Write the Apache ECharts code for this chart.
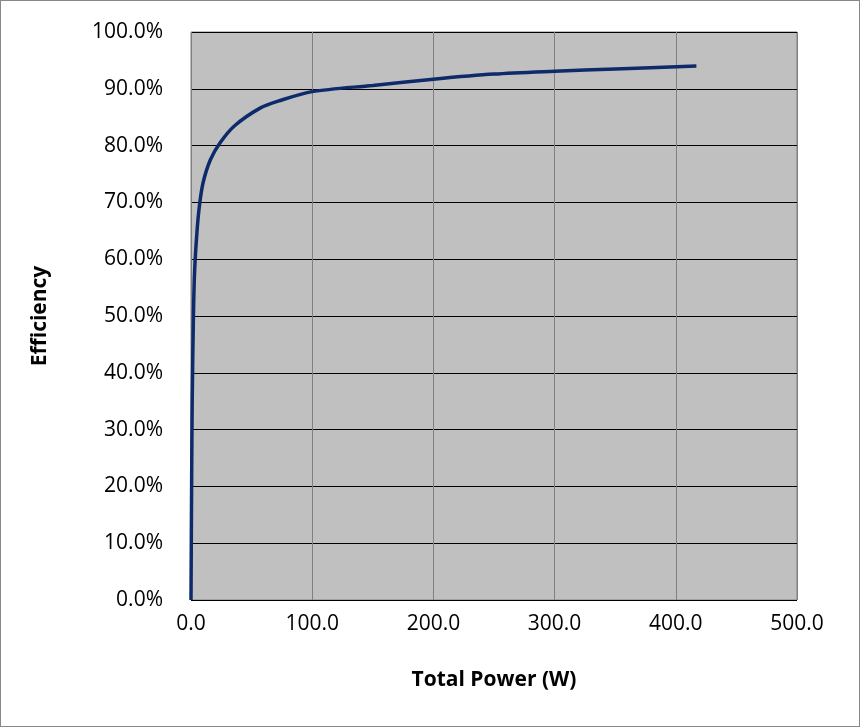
<!DOCTYPE html>
<html><head><meta charset="utf-8">
<script src="https://cdn.jsdelivr.net/npm/echarts@6/dist/echarts.min.js"></script>
<style>html,body{margin:0;padding:0;background:#fff}#c{width:860px;height:727px;box-sizing:border-box;border:1px solid #888}</style>
</head><body><div id="c"></div>
<script>
const powerW = [0, 0.5, 1, 2, 3, 5, 7, 10, 16, 24, 36, 57, 73, 100, 150, 200, 250, 300, 350, 417];
const efficiency = [0, 0.20, 0.35, 0.50, 0.58, 0.65, 0.695, 0.735, 0.775, 0.805, 0.835, 0.866, 0.879, 0.895, 0.906, 0.917, 0.926, 0.931, 0.935, 0.94];
const chart = echarts.init(document.getElementById('c'));
const font = '"Open Sans", "Liberation Sans", sans-serif';
chart.setOption({
  animation: false,
  grid: {left: 190, right: 62, top: 31, bottom: 126, show: true, backgroundColor: '#c0c0c0', borderColor: '#808080', borderWidth: 1},
  xAxis: {type: 'value', min: 0, max: 500, interval: 100,
    name: 'Total Power (W)', nameLocation: 'middle', nameGap: 70,
    nameTextStyle: {fontFamily: font, fontWeight: 'bold', fontSize: 21, color: '#000'},
    axisLabel: {formatter: v => v.toFixed(1), fontFamily: font, fontSize: 21, color: '#000', margin: 14},
    axisLine: {show: false}, axisTick: {show: false},
    splitLine: {lineStyle: {color: '#808080', width: 1}}},
  yAxis: {type: 'value', min: 0, max: 1, interval: 0.1,
    name: 'Efficiency', nameLocation: 'middle', nameGap: 140,
    nameTextStyle: {fontFamily: font, fontWeight: 'bold', fontSize: 21, color: '#000'},
    axisLabel: {formatter: v => (v * 100).toFixed(1) + '%', fontFamily: font, fontSize: 21, color: '#000', margin: 28},
    axisLine: {show: false}, axisTick: {show: false},
    splitLine: {lineStyle: {color: '#000', width: 1}}},
  series: [{type: 'line', data: powerW.map((p, i) => [p, efficiency[i]]), smooth: 0.3,
    showSymbol: false, lineStyle: {color: '#0d2a6b', width: 3.5}}]
});
</script></body></html>
